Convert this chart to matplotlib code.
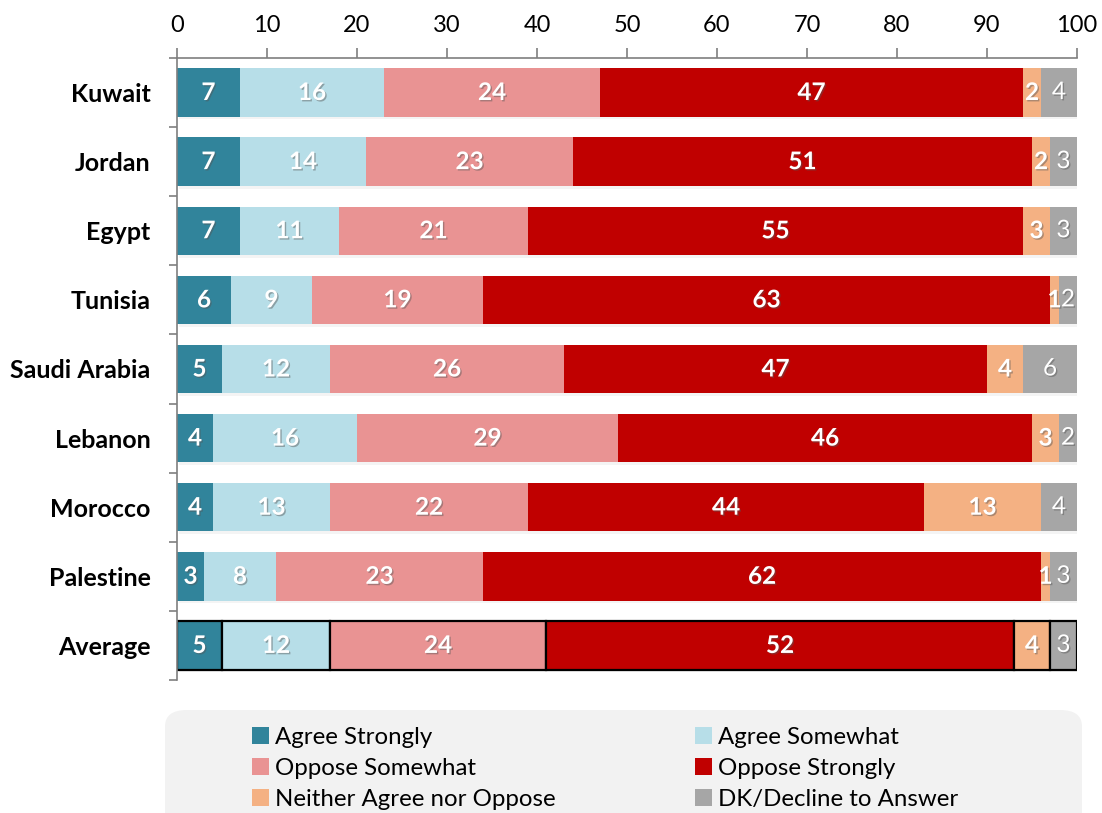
import numpy as np
import matplotlib.pyplot as plt
import matplotlib.patheffects as pe
from matplotlib.patches import FancyBboxPatch, Patch

plt.rcParams['font.family'] = ['Lato', 'DejaVu Sans']

countries = ['Kuwait', 'Jordan', 'Egypt', 'Tunisia', 'Saudi Arabia',
             'Lebanon', 'Morocco', 'Palestine', 'Average']
agree_strongly = [7, 7, 7, 6, 5, 4, 4, 3, 5]
agree_somewhat = [16, 14, 11, 9, 12, 16, 13, 8, 12]
oppose_somewhat = [24, 23, 21, 19, 26, 29, 22, 23, 24]
oppose_strongly = [47, 51, 55, 63, 47, 46, 44, 62, 52]
neither = [2, 2, 3, 1, 4, 3, 13, 1, 4]
dk_decline = [4, 3, 3, 2, 6, 2, 4, 3, 3]

series = [
    ('Agree Strongly', agree_strongly, '#31849B', True),
    ('Agree Somewhat', agree_somewhat, '#B7DEE8', True),
    ('Oppose Somewhat', oppose_somewhat, '#E99393', True),
    ('Oppose Strongly', oppose_strongly, '#C00000', True),
    ('Neither Agree nor Oppose', neither, '#F4B183', True),
    ('DK/Decline to Answer', dk_decline, '#A6A6A6', False),
]

fig = plt.figure(figsize=(11.02, 8.13), dpi=100)
ax = fig.add_axes([0.1606, 0.1636, 0.8167, 0.7651])

y = np.arange(len(countries))
left = np.zeros(len(countries))
txt_fx = [pe.withSimplePatchShadow(offset=(1, -1), shadow_rgbFace='#555555', alpha=0.45)]
bar_fx = [pe.withSimplePatchShadow(offset=(1.5, -2), shadow_rgbFace='#AAAAAA', alpha=0.12)]
for name, vals, color, bold in series:
    vals = np.array(vals, dtype=float)
    edges = ['none'] * (len(countries) - 1) + ['black']
    bars = ax.barh(y, vals, left=left, height=0.7, color=color,
                   edgecolor=edges, linewidth=1.6, label=name, zorder=2)
    for b in bars:
        b.set_path_effects(bar_fx)
    for yi, (v, l) in enumerate(zip(vals, left)):
        ax.text(l + v / 2, yi, f'{int(v)}', ha='center', va='center',
                color='white', fontsize=17.5,
                fontweight='bold' if bold else 'normal',
                path_effects=txt_fx, zorder=3)
    left += vals

ax.set_xlim(0, 100)
ax.set_ylim(len(countries) - 0.5, -0.5)
ax.xaxis.tick_top()
ax.set_xticks(np.arange(0, 101, 10))
ax.tick_params(axis='x', direction='out', length=7, width=1.2, color='#7F7F7F',
               labelsize=17, pad=9)
ax.set_yticks(y)
ax.set_yticklabels(countries, fontsize=18, fontweight='bold')
ax.set_yticks(np.arange(-0.5, len(countries), 1), minor=True)
ax.tick_params(axis='y', which='major', length=0, pad=19)
ax.tick_params(axis='y', which='minor', direction='out', length=6, width=1.2,
               color='#7F7F7F')
for s in ['right', 'bottom']:
    ax.spines[s].set_visible(False)
for s in ['top', 'left']:
    ax.spines[s].set_color('#7F7F7F')
    ax.spines[s].set_linewidth(1.2)

# legend panel
panel = FancyBboxPatch((165 / 1102, -0.05), (1082 - 165) / 1102, 0.05 + (813 - 710) / 813,
                       boxstyle='round,pad=0,rounding_size=0.02',
                       transform=fig.transFigure, facecolor='#F2F2F2',
                       edgecolor='none', zorder=0)
fig.patches.append(panel)
handles = [Patch(facecolor=c, edgecolor='none') for _, _, c, _ in series]
labels = [n for n, _, _, _ in series]
order = [0, 2, 4, 1, 3, 5]
fig.legend([handles[i] for i in order], [labels[i] for i in order],
           loc='upper left', bbox_to_anchor=(252 / 1102, 1 - 727 / 813),
           ncol=2, frameon=False, fontsize=17.3, handlelength=0.7,
           handleheight=0.7, handletextpad=0.25, columnspacing=5.8,
           labelspacing=0.42, borderpad=0, borderaxespad=0)

fig.savefig('out.png', dpi=100)
